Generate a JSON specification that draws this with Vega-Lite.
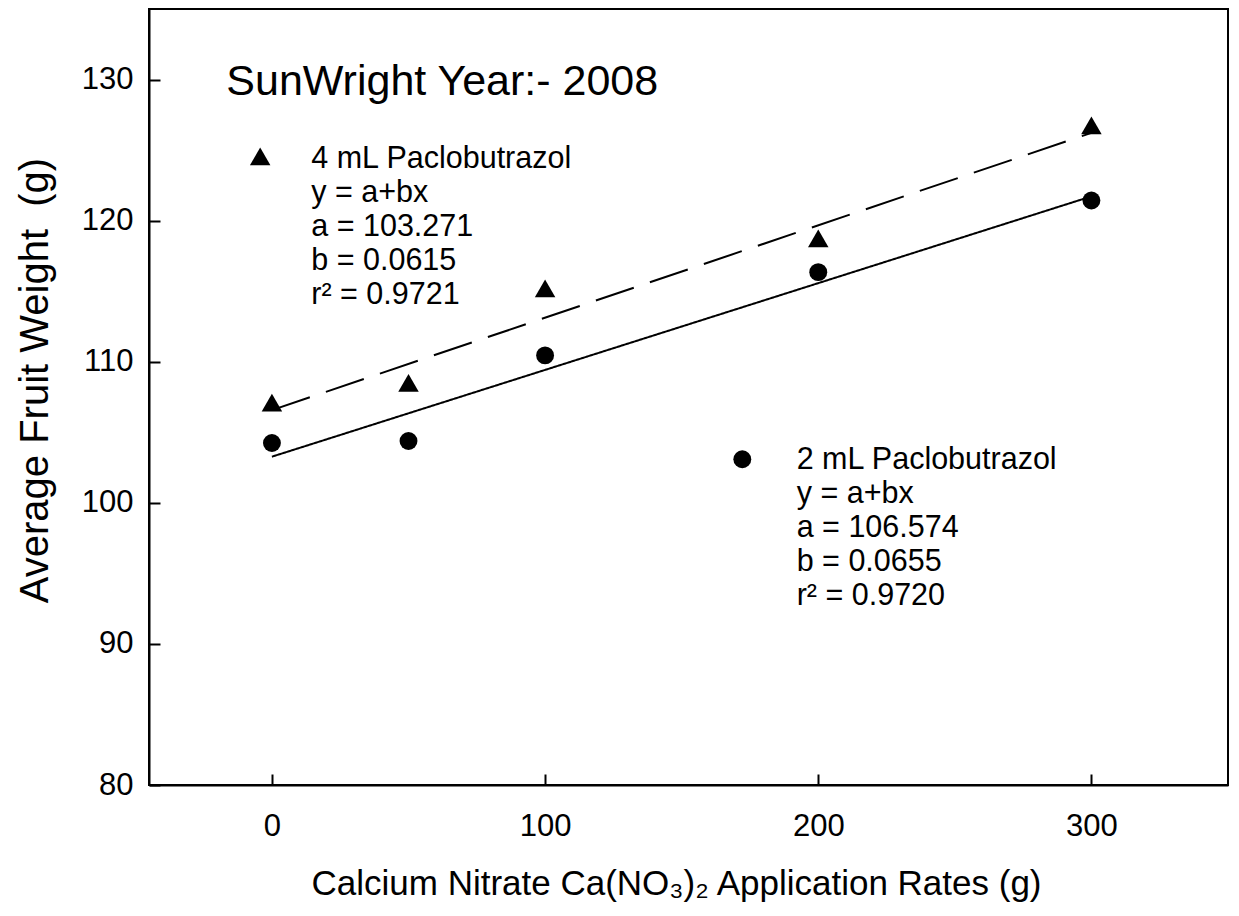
{
  "$schema": "https://vega.github.io/schema/vega-lite/v6.json",
  "width": 1079,
  "height": 776,
  "autosize": "none",
  "padding": {"left": 149, "top": 9, "right": 11, "bottom": 131},
  "background": "white",
  "config": {
    "view": {"stroke": "black", "strokeWidth": 2},
    "font": "Liberation Sans",
    "text": {"font": "Liberation Sans", "color": "black"}
  },
  "datasets": {
    "points": [
      {"rate": 0, "weight": 107.1, "series": "4 mL Paclobutrazol"},
      {"rate": 50, "weight": 108.5, "series": "4 mL Paclobutrazol"},
      {"rate": 100, "weight": 115.2, "series": "4 mL Paclobutrazol"},
      {"rate": 200, "weight": 118.75, "series": "4 mL Paclobutrazol"},
      {"rate": 300, "weight": 126.75, "series": "4 mL Paclobutrazol"},
      {"rate": 0, "weight": 104.24, "series": "2 mL Paclobutrazol"},
      {"rate": 50, "weight": 104.38, "series": "2 mL Paclobutrazol"},
      {"rate": 100, "weight": 110.45, "series": "2 mL Paclobutrazol"},
      {"rate": 200, "weight": 116.35, "series": "2 mL Paclobutrazol"},
      {"rate": 300, "weight": 121.43, "series": "2 mL Paclobutrazol"}
    ],
    "fits": [
      {"rate": 0, "weight": 106.57, "fit": "upper"},
      {"rate": 300, "weight": 126.22, "fit": "upper"},
      {"rate": 0, "weight": 103.27, "fit": "lower"},
      {"rate": 300, "weight": 121.72, "fit": "lower"}
    ]
  },
  "layer": [
    {
      "data": {"name": "fits"},
      "mark": {"type": "line", "color": "black", "strokeWidth": 2},
      "encoding": {
        "x": {
          "field": "rate",
          "type": "quantitative",
          "scale": {"domain": [-45, 350], "nice": false, "zero": false},
          "axis": {
            "title": "Calcium Nitrate Ca(NO₃)₂ Application Rates (g)",
            "values": [0, 100, 200, 300],
            "grid": false,
            "domainColor": "black",
            "domainWidth": 2,
            "tickColor": "black",
            "tickWidth": 2,
            "tickSize": -11,
            "labelFontSize": 31,
            "labelColor": "black",
            "labelFont": "Liberation Sans",
            "labelPadding": 37,
            "labelBaseline": "top",
            "titleFont": "Liberation Sans",
            "titleFontSize": 35,
            "titleFontWeight": "normal",
            "titleColor": "black",
            "titleBaseline": "alphabetic",
            "titleX": 527,
            "titleY": 109
          }
        },
        "y": {
          "field": "weight",
          "type": "quantitative",
          "scale": {"domain": [80, 135], "nice": false, "zero": false},
          "axis": {
            "title": "Average Fruit Weight\u00a0 (g)",
            "values": [80, 90, 100, 110, 120, 130],
            "grid": false,
            "domainColor": "black",
            "domainWidth": 2,
            "tickColor": "black",
            "tickWidth": 2,
            "tickSize": -11,
            "labelFontSize": 31,
            "labelColor": "black",
            "labelFont": "Liberation Sans",
            "labelPadding": 27,
            "titleFont": "Liberation Sans",
            "titleFontSize": 40,
            "titleFontWeight": "normal",
            "titleColor": "black",
            "titleAngle": -90,
            "titleBaseline": "alphabetic",
            "titleAlign": "center",
            "titleX": -102,
            "titleY": 371
          }
        },
        "strokeDash": {
          "field": "fit",
          "type": "nominal",
          "scale": {"domain": ["upper", "lower"], "range": [[40, 17], [1, 0]]},
          "legend": null
        }
      }
    },
    {
      "data": {"name": "points"},
      "transform": [{"filter": "datum.series === '4 mL Paclobutrazol'"}],
      "mark": {"type": "point", "shape": "triangle-up", "filled": true, "color": "black", "size": 420, "opacity": 1},
      "encoding": {
        "x": {"field": "rate", "type": "quantitative"},
        "y": {"field": "weight", "type": "quantitative"}
      }
    },
    {
      "data": {"name": "points"},
      "transform": [{"filter": "datum.series === '2 mL Paclobutrazol'"}],
      "mark": {"type": "point", "shape": "circle", "filled": true, "color": "black", "size": 320, "opacity": 1},
      "encoding": {
        "x": {"field": "rate", "type": "quantitative"},
        "y": {"field": "weight", "type": "quantitative"}
      }
    },
    {
      "data": {"values": [{}]},
      "mark": {"type": "point", "shape": "triangle-up", "filled": true, "color": "black", "size": 420, "opacity": 1},
      "encoding": {
        "x": {"datum": -4.3, "type": "quantitative"},
        "y": {"datum": 124.55, "type": "quantitative"}
      }
    },
    {
      "data": {"values": [{}]},
      "mark": {"type": "point", "shape": "circle", "filled": true, "color": "black", "size": 320, "opacity": 1},
      "encoding": {
        "x": {"datum": 172.2, "type": "quantitative"},
        "y": {"datum": 103.09, "type": "quantitative"}
      }
    },
    {
      "data": {"values": [{}]},
      "mark": {"type": "text", "align": "left", "baseline": "alphabetic", "fontSize": 43, "font": "Liberation Sans", "color": "black", "text": "SunWright Year:- 2008"},
      "encoding": {
        "x": {"datum": -16.7, "type": "quantitative"},
        "y": {"datum": 128.9, "type": "quantitative"}
      }
    },
    {
      "data": {"values": [{}]},
      "mark": {"type": "text", "align": "left", "baseline": "alphabetic", "fontSize": 30.5, "lineHeight": 34, "font": "Liberation Sans", "color": "black",
        "text": ["4 mL Paclobutrazol", "y = a+bx", "a = 103.271", "b = 0.0615", "r² = 0.9721"]},
      "encoding": {
        "x": {"datum": 14.4, "type": "quantitative"},
        "y": {"datum": 123.7, "type": "quantitative"}
      }
    },
    {
      "data": {"values": [{}]},
      "mark": {"type": "text", "align": "left", "baseline": "alphabetic", "fontSize": 30.5, "lineHeight": 34, "font": "Liberation Sans", "color": "black",
        "text": ["2 mL Paclobutrazol", "y = a+bx", "a = 106.574", "b = 0.0655", "r² = 0.9720"]},
      "encoding": {
        "x": {"datum": 192.1, "type": "quantitative"},
        "y": {"datum": 102.43, "type": "quantitative"}
      }
    }
  ]
}
